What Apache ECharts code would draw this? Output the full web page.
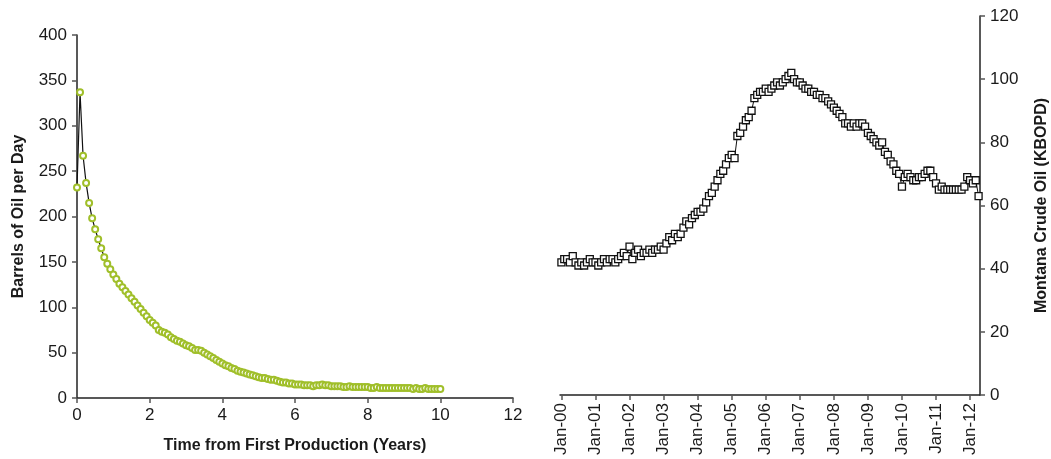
<!DOCTYPE html>
<html>
<head>
<meta charset="utf-8">
<script src="https://cdn.jsdelivr.net/npm/echarts@6/dist/echarts.min.js"></script>
<style>
  html, body { margin: 0; padding: 0; background: #fff; }
  #chart { width: 1051px; height: 459px; }
</style>
</head>
<body>
<div id="chart"></div>
<script>
// Single well: monthly oil rate (bbl/d), month 0 .. month 120
const wellRate = [
  232, 337, 267, 237, 215, 198, 186, 175, 165, 155, 148, 142,
  136, 131, 126, 122, 118, 114, 110, 106, 102, 98, 94, 90,
  86, 83, 80, 75, 73, 72, 70, 67, 65, 63, 62, 60,
  58, 57, 55, 53, 53, 52, 50, 48, 46, 44, 42, 40,
  38, 36, 35, 33, 32, 30, 29, 28, 27, 26, 25, 24,
  23, 22, 22, 21, 20, 20, 19, 18, 17, 17, 16, 16,
  15, 15, 15, 14, 14, 14, 13, 14, 14, 15, 14, 14,
  13, 13, 13, 13, 12, 12, 13, 12, 12, 12, 12, 12,
  12, 11, 11, 12, 11, 11, 11, 11, 11, 11, 11, 11,
  11, 11, 11, 10, 11, 10, 10, 11, 10, 10, 10, 10,
  10
];

// Montana crude oil production (thousand bbl/d), Jan 2000 .. Apr 2012
const montanaOil = [
  42, 43, 43, 42, 44, 42, 41, 42, 41, 42, 43, 42,
  42, 41, 42, 43, 42, 43, 43, 42, 43, 44, 45, 44,
  47, 43, 45, 46, 44, 45, 45, 46, 45, 46, 46, 47,
  46, 48, 50, 49, 51, 50, 51, 53, 55, 54, 56, 57,
  58, 58, 59, 61, 63, 64, 66, 68, 70, 71, 73, 75,
  76, 75, 82, 83, 85, 87, 88, 90, 94, 95, 96, 96,
  97, 96, 97, 98, 99, 98, 99, 100, 101, 102, 100, 99,
  99, 98, 97, 97, 96, 96, 95, 95, 94, 94, 93, 92,
  91, 90, 89, 88, 86, 86, 85, 86, 85, 86, 86, 85,
  83, 82, 81, 80, 79, 80, 77, 76, 74, 73, 71, 70,
  66, 69, 70, 69, 68, 68, 69, 69, 70, 71, 71, 69,
  67, 65, 66, 65, 65, 65, 65, 65, 65, 65, 66, 69,
  68, 67, 68, 63
];

const monthNames = ['Jan', 'Feb', 'Mar', 'Apr', 'May', 'Jun',
                    'Jul', 'Aug', 'Sep', 'Oct', 'Nov', 'Dec'];
const firstYear = 2000;

// Month labels such as "Jan-00"
const monthCategories = montanaOil.map((_, i) => {
  const y = firstYear + Math.floor(i / 12);
  return monthNames[i % 12] + '-' + String(y % 100).padStart(2, '0');
});

// Time axis for the single-well curve, in years
const wellPoints = wellRate.map((v, i) => [i / 12, v]);

const textColor = '#1a1a1a';
const axisColor = '#222';
const fontFamily = 'Arial, "Liberation Sans", Helvetica, sans-serif';

const axisLineStyle = { show: true, lineStyle: { color: axisColor, width: 1.5 } };
const axisTickStyle = { show: true, length: 5, lineStyle: { color: '#555', width: 1.5 } };
const tickLabel = { color: textColor, fontSize: 17, fontFamily: fontFamily };
const titleText = { color: textColor, fontSize: 16, fontWeight: 'bold', fontFamily: fontFamily };

const chart = echarts.init(document.getElementById('chart'), null, { renderer: 'canvas' });

chart.setOption({
  animation: false,
  backgroundColor: '#fff',
  grid: [
    { left: 77, right: 538, top: 35, bottom: 60 },
    { left: 560, right: 68, top: 16, bottom: 64 }
  ],
  xAxis: [
    {
      gridIndex: 0,
      type: 'value',
      min: 0, max: 12, interval: 2,
      name: 'Time from First Production (Years)',
      nameLocation: 'middle',
      nameGap: 40,
      nameTextStyle: titleText,
      axisLine: axisLineStyle,
      axisTick: axisTickStyle,
      axisLabel: Object.assign({ margin: 9 }, tickLabel),
      splitLine: { show: false }
    },
    {
      gridIndex: 1,
      type: 'category',
      data: monthCategories,
      boundaryGap: true,
      axisLine: axisLineStyle,
      axisTick: Object.assign({ interval: 11, alignWithLabel: true }, axisTickStyle),
      axisLabel: Object.assign({ interval: 11, rotate: 90, margin: 8 }, tickLabel),
      splitLine: { show: false }
    }
  ],
  yAxis: [
    {
      gridIndex: 0,
      type: 'value',
      min: 0, max: 400, interval: 50,
      name: 'Barrels of Oil per Day',
      nameLocation: 'middle',
      nameGap: 50,
      nameRotate: 90,
      nameTextStyle: titleText,
      axisLine: axisLineStyle,
      axisTick: axisTickStyle,
      axisLabel: Object.assign({ margin: 10 }, tickLabel),
      splitLine: { show: false }
    },
    {
      gridIndex: 1,
      type: 'value',
      position: 'right',
      min: 0, max: 120, interval: 20,
      name: 'Montana Crude Oil (KBOPD)',
      nameLocation: 'middle',
      nameGap: 54,
      nameRotate: 90,
      nameTextStyle: titleText,
      axisLine: axisLineStyle,
      axisTick: axisTickStyle,
      axisLabel: Object.assign({ margin: 10 }, tickLabel),
      splitLine: { show: false }
    }
  ],
  series: [
    {
      type: 'line',
      xAxisIndex: 0,
      yAxisIndex: 0,
      data: wellPoints,
      symbol: 'circle',
      symbolSize: 6,
      showAllSymbol: true,
      lineStyle: { color: '#111', width: 1.2 },
      itemStyle: { color: '#fff', borderColor: '#a0bf2a', borderWidth: 2 }
    },
    {
      type: 'line',
      xAxisIndex: 1,
      yAxisIndex: 1,
      data: montanaOil,
      symbol: 'rect',
      symbolSize: 7,
      showAllSymbol: true,
      lineStyle: { color: '#111', width: 1 },
      itemStyle: { color: '#fff', borderColor: '#111', borderWidth: 1.3 }
    }
  ]
});
</script>
</body>
</html>
